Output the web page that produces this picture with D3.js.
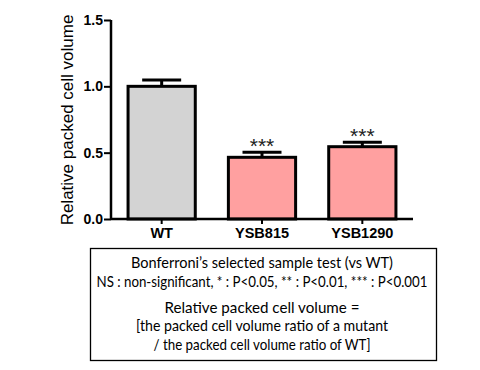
<!DOCTYPE html>
<html>
<head>
<meta charset="utf-8">
<script src="https://cdn.jsdelivr.net/npm/d3@7"></script>
<style>
  body { margin: 0; background: #fff; }
  svg { display: block; }
</style>
</head>
<body>
<div id="chart"></div>
<script>
// data
const groups = ["WT", "YSB815", "YSB1290"];
const means = [1.0, 0.465, 0.545];
const errs = [0.047, 0.038, 0.033];
const sig = ["", "***", "***"];
const barColors = ["#d3d3d3", "#ffa0a0", "#ffa0a0"];
const yTicks = [0.0, 0.5, 1.0, 1.5];
const noteLines = [
    "Bonferroni\u2019s selected sample test (vs WT)",
    "NS : non-significant, * : P<0.05, ** : P<0.01, *** : P<0.001",
    "Relative packed cell volume =",
    "[the packed cell volume ratio of a mutant",
    "/ the packed cell volume ratio of WT]"
];

// basic setup
const W = 480, H = 370;
const margin = { top: 20, left: 111 };
const width = 302;
const height = 199;

const root = d3.select("#chart")
    .append("svg")
    .attr("width", W)
    .attr("height", H);

const svg = root.append("g")
    .attr("transform", `translate(${margin.left},${margin.top})`);

// scales
const x = d3.scaleBand()
    .domain(groups)
    .range([0, width])
    .paddingInner(0.33)
    .paddingOuter(0.17);

const y = d3.scaleLinear()
    .domain([0, 1.5])
    .range([height, 0]);

// bars
svg.selectAll(".bar")
    .data(groups)
    .enter()
    .append("rect")
    .attr("class", "bar")
    .attr("x", d => x(d))
    .attr("y", (d, i) => y(means[i]))
    .attr("width", x.bandwidth())
    .attr("height", (d, i) => y(0) - y(means[i]))
    .style("fill", (d, i) => barColors[i])
    .style("stroke", "#000")
    .style("stroke-width", 3);

// error bars (upper only)
const capW = x.bandwidth() * 0.58;
const eb = svg.selectAll(".err")
    .data(groups)
    .enter()
    .append("g")
    .attr("class", "err");

eb.append("line")
    .attr("x1", d => x(d) + x.bandwidth() / 2)
    .attr("x2", d => x(d) + x.bandwidth() / 2)
    .attr("y1", (d, i) => y(means[i]))
    .attr("y2", (d, i) => y(means[i] + errs[i]))
    .style("stroke", "#000")
    .style("stroke-width", 3);

eb.append("line")
    .attr("x1", d => x(d) + x.bandwidth() / 2 - capW / 2)
    .attr("x2", d => x(d) + x.bandwidth() / 2 + capW / 2)
    .attr("y1", (d, i) => y(means[i] + errs[i]))
    .attr("y2", (d, i) => y(means[i] + errs[i]))
    .style("stroke", "#000")
    .style("stroke-width", 3);

// significance stars
svg.selectAll(".star")
    .data(groups)
    .enter()
    .append("text")
    .attr("class", "star")
    .attr("x", d => x(d) + x.bandwidth() / 2)
    .attr("y", (d, i) => y(means[i] + errs[i]) + 1)
    .attr("text-anchor", "middle")
    .style("font-family", "Liberation Sans, Arial, sans-serif")
    .style("font-size", "21px")
    .style("fill", "#222")
    .text((d, i) => sig[i]);

// axes
const xAxis = svg.append("g")
    .attr("transform", `translate(0,${height})`)
    .call(d3.axisBottom(x).tickSize(5).tickPadding(4));

const yAxis = svg.append("g")
    .call(d3.axisLeft(y).tickValues(yTicks).tickFormat(d3.format(".1f")).tickSize(7).tickPadding(1));

[xAxis, yAxis].forEach(a => {
    a.select(".domain").style("stroke", "#000").style("stroke-width", 2.5);
    a.selectAll(".tick line").style("stroke", "#000").style("stroke-width", 2);
    a.selectAll(".tick text")
        .style("font-family", "Liberation Sans, Arial, sans-serif")
        .style("font-weight", "bold")
        .style("font-size", "14px")
        .style("fill", "#000");
});
// no end ticks on the axis lines
xAxis.select(".domain").attr("d", `M0,0H${width}`);
yAxis.select(".domain").attr("d", `M0,0V${height}`);
xAxis.selectAll(".tick text").style("font-size", "14.5px");

// y title
root.append("text")
    .attr("transform", "rotate(-90)")
    .attr("x", -120)
    .attr("y", 73)
    .attr("text-anchor", "middle")
    .style("font-family", "Liberation Sans, Arial, sans-serif")
    .style("font-size", "17px")
    .text("Relative packed cell volume");

// note box
root.append("rect")
    .attr("x", 90.5)
    .attr("y", 248.5)
    .attr("width", 346)
    .attr("height", 112)
    .style("fill", "#fff")
    .style("stroke", "#000")
    .style("stroke-width", 1.3);

const noteY = [268, 287, 313, 331, 350];
const noteW = [262, 331, 195, 252, 217];
root.selectAll(".note")
    .data(noteLines)
    .enter()
    .append("text")
    .attr("class", "note")
    .attr("x", 262)
    .attr("y", (d, i) => noteY[i])
    .attr("text-anchor", "middle")
    .attr("textLength", (d, i) => noteW[i])
    .attr("lengthAdjust", "spacingAndGlyphs")
    .style("font-family", "Lato, sans-serif")
    .style("font-size", "15px")
    .style("fill", "#000")
    .text(d => d);
</script>
</body>
</html>
